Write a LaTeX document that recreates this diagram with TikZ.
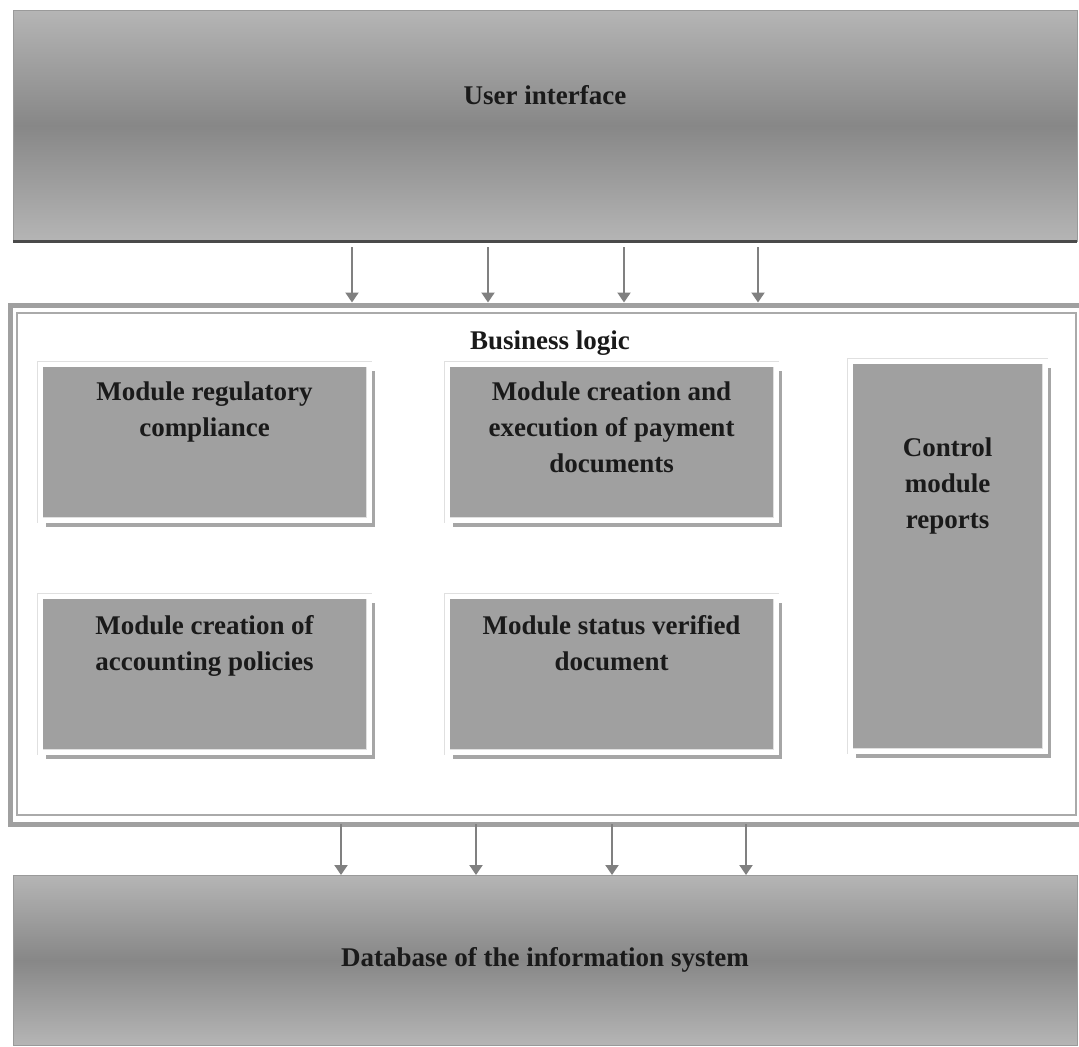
\documentclass[tikz,border=0pt]{standalone}
\usepackage{fontspec}
\setmainfont{Liberation Serif}
\usepackage{tikz}
\usetikzlibrary{arrows.meta,shadows,calc}
\definecolor{barlight}{HTML}{B5B5B5}
\definecolor{bardark}{HTML}{878787}
\definecolor{barline}{HTML}{9A9A9A}
\definecolor{darkline}{HTML}{4A4A4A}
\definecolor{modgray}{HTML}{A0A0A0}
\definecolor{shadowgray}{HTML}{A6A6A6}
\definecolor{framegray}{HTML}{A0A0A0}
\definecolor{arrowgray}{HTML}{808080}
\definecolor{textblack}{HTML}{1A1A1A}

\begin{document}
\begin{tikzpicture}[x=0.5pt,y=-0.5pt,
    bar/.style={draw=barline, line width=0.5pt, top color=barlight, bottom color=barlight, middle color=bardark, minimum width=532pt, inner sep=0pt, outer sep=0pt},
    module/.style={fill=modgray, draw=black!12, line width=0.25pt, double=white, double distance=2.5pt, inner sep=0pt, outer sep=0pt, drop shadow={shadow xshift=3pt, shadow yshift=-3.5pt, fill=shadowgray, opacity=1}},
    title/.style={font=\bfseries\fontsize{13.5pt}{18pt}\selectfont, text=textblack, align=center, inner sep=0pt},
    flow/.style={draw=arrowgray, line width=1pt, -{Triangle[width=6.5pt,length=5pt,fill=arrowgray]}}]
  \clip (0,0) rectangle (1079,1046);
  \node[bar, minimum height=115.5pt] (ui) at (545,125.5) {};
  \node[title, anchor=base] at ([yshift=-47pt]ui.north) {User interface};
  \draw[line width=1.5pt, darkline] (ui.south west) -- (ui.south east);

  \node[draw=framegray, line width=2.5pt, minimum width=540pt, minimum height=259.5pt, outer sep=0pt] (bl) at (550,564.5) {};
  \draw[framegray!90, line width=0.75pt] (17,313) rectangle (1076,815);
  \node[title, anchor=base] at ([yshift=-22pt]bl.north) {Business logic};

  \node[module, minimum width=164.5pt, minimum height=78pt] (m1) at (204.5,442) {};
  \node[title, anchor=north] at ([yshift=-8.9pt]m1.north) {Module regulatory\\compliance};
  \node[module, minimum width=164.5pt, minimum height=78pt] (m2) at (611.5,442) {};
  \node[title, anchor=north] at ([yshift=-8.9pt]m2.north) {Module creation and\\execution of payment\\documents};
  \node[module, minimum width=97.5pt, minimum height=195pt] (m3) at (947.5,556) {};
  \node[title, anchor=north] at ([yshift=-38.4pt]m3.north) {Control\\module\\reports};
  \node[module, minimum width=164.5pt, minimum height=78pt] (m4) at (204.5,674) {};
  \node[title, anchor=north] at ([yshift=-9.4pt]m4.north) {Module creation of\\accounting policies};
  \node[module, minimum width=164.5pt, minimum height=78pt] (m5) at (611.5,674) {};
  \node[title, anchor=north] at ([yshift=-9.4pt]m5.north) {Module status verified\\document};

  \node[bar, title, minimum height=85pt] (db) at (545,960) {Database of the information system};

  \foreach \x in {352,488,624,758}
    \draw[flow, shorten <=3pt, shorten >=1.25pt] (ui.south -| \x,0) -- (bl.north -| \x,0);
  \foreach \x in {341,476,612,746}
    \draw[flow] (bl.south -| \x,0) -- (db.north -| \x,0);
\end{tikzpicture}
\end{document}
